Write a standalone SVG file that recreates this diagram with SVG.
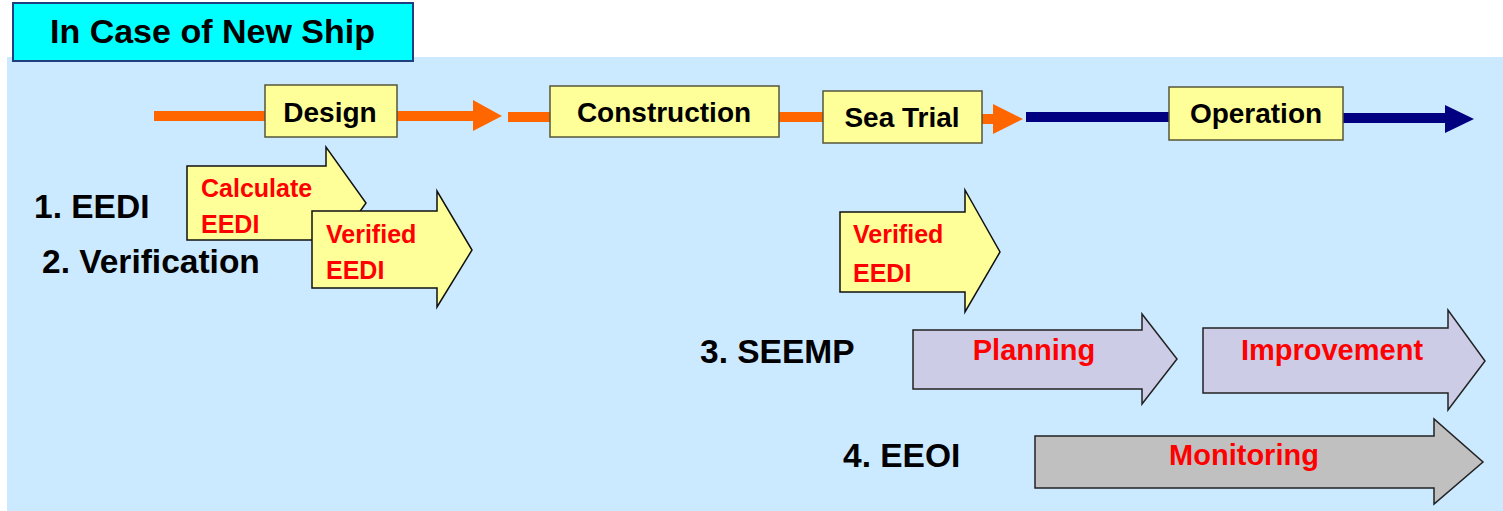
<svg xmlns="http://www.w3.org/2000/svg" width="1503" height="511" viewBox="0 0 1503 511">
<style>
.lbl{font-family:"Liberation Sans",Arial,sans-serif;font-weight:bold;fill:#000}
.red{font-family:"Liberation Sans",Arial,sans-serif;font-weight:bold;fill:#ff0000}
.box{fill:#ffff99;stroke:#55553a;stroke-width:1.5}
.yarrow{fill:#ffff99;stroke:#111;stroke-width:1.5;stroke-linejoin:miter}
.parrow{fill:#ccccE6;stroke:#222;stroke-width:1.5}
.garrow{fill:#c0c0c0;stroke:#222;stroke-width:1.5}
.orange{stroke:#ff6600;stroke-width:10;fill:none}
.navy{stroke:#000080;stroke-width:10;fill:none}
</style>
<rect x="0" y="0" width="1503" height="511" fill="#ffffff"/>
<rect id="background" x="7" y="57" width="1496" height="454" fill="#cceaff"/>
<g id="title">
<rect x="13" y="3" width="400" height="58" fill="#00ffff" stroke="#1f3f7f" stroke-width="2"/>
<text class="lbl" x="50" y="43" font-size="34">In Case of New Ship</text>
</g>
<g id="connectors">
<line class="orange" x1="154" y1="116" x2="476" y2="116"/>
<polygon points="473,100 502,116 473,131" fill="#ff6600"/>
<line class="orange" x1="508" y1="117" x2="550" y2="117"/>
<line class="orange" x1="779" y1="117" x2="823" y2="117"/>
<line class="orange" x1="982" y1="119" x2="996" y2="119"/>
<polygon points="993,104 1023,119 993,134" fill="#ff6600"/>
<line class="navy" x1="1026" y1="117" x2="1169" y2="117"/>
<line class="navy" x1="1343" y1="118" x2="1447" y2="118"/>
<polygon points="1445,105 1474,119 1445,133" fill="#000080"/>
</g>
<g id="design">
<rect class="box" x="265" y="85" width="132" height="52"/>
<text class="lbl" x="330" y="122" font-size="28" text-anchor="middle">Design</text>
</g>
<g id="construction">
<rect class="box" x="550" y="86" width="229" height="51"/>
<text class="lbl" x="664" y="122" font-size="28" text-anchor="middle">Construction</text>
</g>
<g id="seatrial">
<rect class="box" x="823" y="91" width="159" height="52"/>
<text class="lbl" x="902" y="127" font-size="28" text-anchor="middle">Sea Trial</text>
</g>
<g id="operation">
<rect class="box" x="1169" y="87" width="174" height="53"/>
<text class="lbl" x="1256" y="123" font-size="28" text-anchor="middle">Operation</text>
</g>
<g id="label-eedi"><text class="lbl" x="34" y="218" font-size="33.5">1. EEDI</text></g>
<g id="label-verification"><text class="lbl" x="42" y="273" font-size="33.5">2. Verification</text></g>
<g id="label-seemp"><text class="lbl" x="700" y="363" font-size="33.5">3. SEEMP</text></g>
<g id="label-eeoi"><text class="lbl" x="843" y="467" font-size="33.5">4. EEOI</text></g>
<g id="calculate-eedi">
<polygon class="yarrow" points="187,166 326,166 326,147 366,203 326,259 326,240 187,240"/>
<text class="red" x="201" y="197" font-size="25">Calculate</text>
<text class="red" x="201" y="233" font-size="25">EEDI</text>
</g>
<g id="verified-eedi-1">
<polygon class="yarrow" points="312,211 437,211 437,191 472,250 437,307 437,288 312,288"/>
<text class="red" x="326" y="243" font-size="25">Verified</text>
<text class="red" x="326" y="279" font-size="25">EEDI</text>
</g>
<g id="verified-eedi-2">
<polygon class="yarrow" points="840,212 965,212 965,190 1000,252 965,312 965,292 840,292"/>
<text class="red" x="853" y="243" font-size="25">Verified</text>
<text class="red" x="853" y="282" font-size="25">EEDI</text>
</g>
<g id="planning">
<polygon class="parrow" points="913,330 1142,330 1142,314 1177,359 1142,404 1142,389 913,389"/>
<text class="red" x="1034" y="360" font-size="29" text-anchor="middle">Planning</text>
</g>
<g id="improvement">
<polygon class="parrow" points="1203,328 1448,328 1448,310 1485,361 1448,410 1448,393 1203,393"/>
<text class="red" x="1332" y="360" font-size="29" text-anchor="middle">Improvement</text>
</g>
<g id="monitoring">
<polygon class="garrow" points="1035,436 1434,436 1434,419 1483,462 1434,504 1434,488 1035,488"/>
<text class="red" x="1244" y="465" font-size="29" text-anchor="middle">Monitoring</text>
</g>
</svg>
